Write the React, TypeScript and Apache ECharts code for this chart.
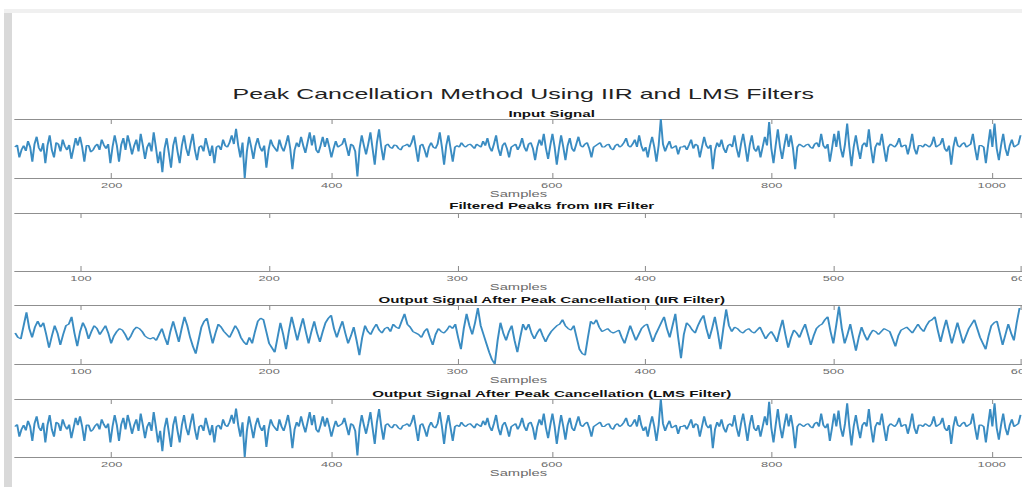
import React, { useEffect, useRef } from "react";
import * as echarts from "echarts";

// ---------- texts ----------
const mainTitle = "Peak Cancellation Method Using IIR and LMS Filters";
const subplotTitles = [
  "Input Signal",
  "Filtered Peaks from IIR Filter",
  "Output Signal After Peak Cancellation (IIR Filter)",
  "Output Signal After Peak Cancellation (LMS Filter)",
];
const xAxisName = "Samples";

// ---------- axes ----------
const longTicks = [200, 400, 600, 800, 1000];
const shortTicks = [100, 200, 300, 400, 500, 600];
const longRange = [112.1, 1027.5];
const shortRange = [64.9, 600.3];

// ---------- sampling grids ----------
const inputStart = 112.1;
const inputStep = 1.97;
const iirStart = 65;
const iirStep = 1.5;

// ---------- series values (amplitude units) ----------
const inputSignal = [
  0.05, 0.12, -0.3, -0.05, 0.1, -0.08, 0.25, 0.05, -0.45, 0.15,
  0.4, 0.02, -0.1, 0.18, -0.5, 0.1, 0.45, -0.05, -0.3, 0.2,
  0.15, -0.1, 0.3, 0.08, -0.05, 0.12, -0.35, 0.0, 0.35, 0.1,
  0.4, 0.05, -0.45, 0.1, 0.1, -0.12, -0.05, 0.08, 0.15, -0.05,
  0.3, 0.12, 0.0, 0.15, -0.5, 0.05, 0.45, 0.1, -0.45, 0.12,
  0.35, -0.05, 0.45, 0.15, -0.2, 0.1, 0.3, -0.1, 0.5, 0.1,
  -0.35, 0.05, 0.2, -0.1, 0.55, 0.05, -0.5, -0.1, -0.8, 0.0,
  0.35, -0.15, -0.65, 0.1, 0.4, -0.1, -0.5, 0.1, 0.45, 0.0,
  -0.25, 0.15, 0.5, -0.05, -0.4, 0.05, 0.1, -0.1, 0.35, 0.05,
  -0.25, 0.1, -0.5, 0.05, 0.1, -0.05, 0.3, 0.1, 0.05, 0.2,
  0.45, 0.15, 0.67, 0.1, -0.3, 0.2, -1.0, -0.1, 0.4, 0.05,
  -0.35, 0.1, 0.35, 0.05, -0.1, 0.1, -0.65, -0.05, 0.3, 0.1,
  0.0, -0.1, 0.3, 0.05, -0.1, 0.15, 0.45, 0.0, -0.7, -0.05,
  0.2, 0.05, 0.4, 0.1, -0.15, 0.2, 0.55, 0.1, 0.45, -0.05,
  -0.15, 0.1, 0.4, 0.05, 0.35, 0.05, -0.3, 0.0, 0.25, 0.05,
  0.1, 0.15,
  0.35, 0.05, -0.25, 0.15, 0.1, -0.1, -0.95, 0.0, 0.45, 0.1,
  -0.2, 0.15, 0.55, 0.0, -0.55, 0.2, 0.65, 0.05, -0.4, 0.1,
  0.15, 0.05, 0.0, 0.12, 0.1, 0.0, -0.05, 0.08, 0.1, 0.15,
  0.05, 0.2, 0.45, 0.0, -0.45, 0.1, 0.15, -0.05, -0.3, 0.05,
  0.2, 0.05, 0.0, 0.15, 0.55, 0.05, -0.55, 0.1, 0.45, 0.0,
  -0.45, 0.05, 0.1, 0.05, 0.2, 0.1, 0.05, 0.12, 0.15, 0.08,
  0.0, 0.15, 0.1, 0.05, 0.25, 0.1, 0.35, 0.05, -0.1, 0.15,
  0.45, 0.0, -0.25, 0.1, 0.2, 0.0, -0.3, 0.05, 0.1, 0.15,
  -0.05, 0.1, 0.35, 0.05, -0.1, 0.15, 0.2, 0.0, -0.4, 0.05,
  0.3, 0.1, 0.5, 0.0, -0.35, 0.1, 0.5, 0.05, -0.55, 0.0,
  0.45, 0.05, -0.4, 0.1, 0.35, 0.0, -0.1, 0.15, 0.4, 0.1,
  0.05, 0.15, 0.2, 0.0, -0.3, 0.05, 0.1, 0.15, 0.2, 0.05,
  0.05, 0.12, 0.15, 0.0, -0.05, 0.1, 0.15, 0.05, 0.1, 0.2,
  0.35, 0.1, 0.05, 0.15, 0.3, 0.05, 0.45, 0.1, -0.1, 0.05,
  -0.3, 0.1, 0.4, 0.05, -0.45, 0.1, 1.0, 0.15, -0.1, 0.1,
  0.25, 0.0, 0.05, 0.1, -0.2, 0.05,
  0.05, 0.1, -0.05, 0.12, 0.3, 0.0, 0.15, 0.1, -0.3, 0.05,
  0.4, 0.1, 0.0, 0.12, -0.7, -0.05, 0.2, 0.05, 0.3, 0.0,
  -0.15, 0.1, 0.15, 0.05, 0.45, 0.0, -0.3, 0.15, 0.5, 0.05,
  -0.45, 0.1, 0.45, 0.0, -0.1, 0.1, -0.3, 0.05, 0.4, 0.1,
  0.9, 0.0, -0.5, 0.1, 0.65, 0.05, -0.35, 0.1, 0.5, 0.05,
  0.45, 0.0, -0.7, 0.05, 0.15, 0.1, 0.05, 0.12, 0.15, 0.05,
  0.0, 0.15, 0.2, 0.05, 0.5, 0.1, 0.0, 0.15, -0.45, 0.0,
  0.5, 0.05, 0.6, 0.0, -0.3, 0.15, 0.85, 0.05, -0.6, 0.05,
  0.45, 0.0, -0.35, 0.1, 0.2, 0.05, 0.65, 0.0, -0.5, 0.05,
  0.2, 0.1, 0.5, 0.0, -0.45, 0.05, 0.15, 0.1, 0.05, 0.15,
  0.35, 0.05, 0.1, 0.12, -0.2, 0.1, 0.5, 0.0, -0.2, 0.1,
  0.1, 0.05, 0.15, 0.1, 0.05, 0.15, 0.4, 0.05, 0.1, 0.15,
  0.35, 0.0, -0.1, 0.1, -0.55, 0.05, 0.4, 0.1, 0.05, 0.15,
  0.2, 0.05, 0.1, 0.15, 0.5, 0.0, -0.4, 0.1, 0.1, 0.05,
  -0.5, 0.1, 0.65, 0.05, 0.85, 0.0, -0.4, 0.1, 0.5, 0.0,
  -0.25, 0.1, 0.3, 0.05, 0.1, 0.15, 0.45,
];

const filteredPeaks: number[] = [];

const iirOutput = [
  0.05, -0.1, -0.15, 0.3, 0.75, 0.2, -0.1, 0.25, 0.45, 0.25,
  0.4, 0.0, -0.45, -0.05, 0.3, 0.05, -0.35, 0.0, 0.3, 0.35,
  0.6, 0.05, -0.4, 0.1, 0.4, 0.2, -0.15, 0.1, 0.3, 0.2,
  0.0, 0.15, 0.3, 0.05, -0.3, -0.05, 0.1, 0.2, 0.15, 0.0,
  -0.2, -0.05, 0.15, 0.25, 0.2, 0.1, -0.05, -0.12, -0.15, -0.1,
  -0.2, 0.0, 0.2, -0.1, -0.35, 0.1, 0.45, 0.1, -0.25, 0.2,
  0.6, 0.3, -0.1, -0.4, -0.65, -0.2, 0.25, 0.45, 0.55, 0.1,
  -0.3, 0.05, 0.35, 0.25, 0.1, 0.0, -0.1, 0.1, 0.3, 0.15,
  -0.1, -0.25, -0.35, -0.1, -0.3, 0.1, 0.45, 0.55, 0.5, 0.1,
  -0.3, -0.45, -0.6, -0.1, 0.4, 0.0, -0.5, 0.1, 0.6, 0.2,
  -0.2, 0.2, 0.55, 0.1, -0.3, 0.1, 0.45, 0.05, -0.25, 0.1,
  0.4, 0.55, 0.65, 0.2, -0.1, 0.2,
  0.45, 0.05, -0.3, -0.05, 0.25, -0.2, -0.7, -0.1, 0.3, 0.1,
  0.0, 0.2, 0.35, 0.15, 0.05, 0.2, 0.25, 0.1, 0.35, 0.25,
  0.2, 0.45, 0.7, 0.35, 0.25, 0.1, 0.05, 0.0, -0.1, 0.1,
  0.2, -0.1, -0.35, 0.0, 0.2, 0.1, 0.05, 0.15, 0.3, 0.2,
  0.35, -0.1, -0.5, 0.2, 0.7, 0.3, 0.0, 0.4, 0.9, 0.3,
  0.0, -0.3, -0.6, -0.85, -1.0, -0.2, 0.4, 0.05, -0.2, 0.1,
  0.3, -0.2, -0.6, -0.1, 0.35, 0.15, 0.35, 0.05, -0.15, 0.05,
  0.2, -0.05, -0.25, -0.05, 0.1, 0.2, 0.3, 0.35, 0.5, 0.3,
  0.2, 0.15, 0.3, -0.1, -0.5, -0.65, -0.7, -0.1, 0.45, 0.35,
  0.5, 0.25, 0.1, 0.15, 0.2, 0.1, 0.05, 0.1, 0.15, -0.1,
  -0.3, 0.0, 0.3, 0.05, -0.2, 0.0, 0.2, 0.3, 0.35, 0.05,
  -0.25, 0.0, 0.2, 0.4, 0.6, 0.2, -0.1, 0.3, 0.7, -0.1,
  -0.8, 0.0,
  0.4, 0.3, 0.15, 0.05, 0.3, 0.5, 0.65, 0.2, -0.15, 0.2,
  0.6, 0.1, -0.5, 0.2, 0.85, 0.3, 0.1, 0.25, 0.2, 0.1,
  0.05, 0.15, 0.2, 0.1, 0.05, 0.15, 0.25, 0.05, -0.15, 0.0,
  0.1, -0.05, -0.25, 0.15, 0.5, 0.0, -0.45, -0.1, 0.15, 0.05,
  -0.1, 0.15, 0.35, 0.0, -0.35, -0.05, 0.2, 0.3, 0.35, 0.5,
  0.6, 0.1, -0.3, 0.3, 0.95, 0.2, -0.3, 0.0, 0.35, -0.1,
  -0.55, -0.1, 0.25, 0.0, -0.2, 0.0, 0.15, 0.1, 0.0, 0.1,
  0.2, 0.15, 0.1, -0.15, -0.4, -0.05, 0.15, 0.2, 0.25, 0.15,
  0.05, 0.2, 0.35, 0.2, 0.1, 0.3, 0.45, 0.5, 0.6, 0.15,
  -0.25, 0.15, 0.5, 0.1, -0.3, 0.05, 0.4, 0.05, -0.3, -0.05,
  0.2, 0.35, 0.5, 0.2, -0.1, -0.3, -0.5, -0.05, 0.3, 0.4,
  0.45, 0.05, -0.35, 0.0, 0.35, 0.05, -0.2, 0.4, 0.9,
];

// LMS output reads as the same trace as the input
const lmsOutput = [...inputSignal];

// ---------- layout ----------
const W = 1022;
const H = 487;
const INNER_W = 574;
const SX = W / INNER_W;
const FONT = "'Liberation Sans', Arial, Helvetica, sans-serif";
const LINE_COLOR = "#3a8cc2";
const AXIS_COLOR = "#8f8f8f";
const LABEL_COLOR = "#6b6b6b";

const panels = [
  { top: 119, height: 59, titleY: 114, ticks: longTicks, range: longRange, values: inputSignal, start: inputStart, step: inputStep },
  { top: 213, height: 58, titleY: 206.5, ticks: shortTicks, range: shortRange, values: filteredPeaks, start: iirStart, step: iirStep },
  { top: 305, height: 59, titleY: 300, ticks: shortTicks, range: shortRange, values: iirOutput, start: iirStart, step: iirStep },
  { top: 399, height: 58, titleY: 394, ticks: longTicks, range: longRange, values: lmsOutput, start: inputStart, step: inputStep },
];

export default function App() {
  const ref = useRef<HTMLDivElement>(null);

  useEffect(() => {
    if (!ref.current) return;
    const chart = echarts.init(ref.current, null, { renderer: "svg" });

    const grid = panels.map((p) => ({
      left: 15 / SX,
      right: 0,
      top: p.top,
      height: p.height,
      containLabel: false,
      outerBoundsMode: "none",
    }));

    const xAxis: any[] = [];
    panels.forEach((p, i) => {
      xAxis.push({
        gridIndex: i,
        type: "value",
        position: "bottom",
        min: p.range[0],
        max: p.range[1],
        axisLine: { show: true, onZero: false, lineStyle: { color: AXIS_COLOR, width: 1 } },
        axisTick: { show: true, inside: true, length: 5, customValues: p.ticks, lineStyle: { color: AXIS_COLOR, width: 0.6 } },
        axisLabel: {
          show: true,
          customValues: p.ticks,
          formatter: (v: number) => String(v),
          fontSize: 7.2,
          color: LABEL_COLOR,
          margin: 4,
          fontFamily: FONT,
        },
        splitLine: { show: false },
        name: xAxisName,
        nameLocation: "middle",
        nameGap: 12.3,
        nameTextStyle: { fontSize: 8.3, color: LABEL_COLOR, fontFamily: FONT },
      });
      xAxis.push({
        gridIndex: i,
        type: "value",
        position: "top",
        min: p.range[0],
        max: p.range[1],
        axisLine: { show: true, onZero: false, lineStyle: { color: AXIS_COLOR, width: 1 } },
        axisTick: { show: true, inside: true, length: 5, customValues: p.ticks, lineStyle: { color: AXIS_COLOR, width: 0.6 } },
        axisLabel: { show: false },
        splitLine: { show: false },
      });
    });

    const yAxis = panels.map((_, i) => ({
      gridIndex: i,
      type: "value",
      min: -1,
      max: 1,
      show: false,
    }));

    const series = panels.map((p, i) => ({
      type: "line",
      xAxisIndex: i * 2,
      yAxisIndex: i,
      data: p.values.map((v, k) => [p.start + k * p.step, v]),
      symbol: "none",
      showSymbol: false,
      clip: true,
      lineStyle: { color: LINE_COLOR, width: 1.1 },
    }));

    const graphic: any[] = [
      { type: "rect", z: -1, shape: { x: 4 / SX, y: 10, width: 8 / SX, height: H - 10 }, style: { fill: "#d9d9d9" } },
      { type: "rect", z: -1, shape: { x: 4 / SX, y: 9, width: (W - 4) / SX, height: 4 }, style: { fill: "#f0f0f0" } },
      {
        type: "text",
        x: 523.3 / SX,
        y: 94,
        style: { text: mainTitle, fontSize: 14, fontFamily: FONT, fill: "#222", textAlign: "center", textVerticalAlign: "middle" },
      },
      ...panels.map((p, i) => ({
        type: "text",
        x: 551.7 / SX,
        y: p.titleY,
        style: { text: subplotTitles[i], fontSize: 8.5, fontWeight: "bold", fontFamily: FONT, fill: "#111", textAlign: "center", textVerticalAlign: "middle" },
      })),
    ];

    chart.setOption({
      animation: false,
      backgroundColor: "#ffffff",
      grid,
      xAxis,
      yAxis,
      series,
      graphic,
    });

    return () => chart.dispose();
  }, []);

  return (
    <div style={{ position: "fixed", left: 0, top: 0, width: W, height: H, overflow: "hidden", background: "#fff" }}>
      <div
        ref={ref}
        style={{ width: INNER_W, height: H, transform: `scaleX(${SX})`, transformOrigin: "0 0" }}
      />
    </div>
  );
}
